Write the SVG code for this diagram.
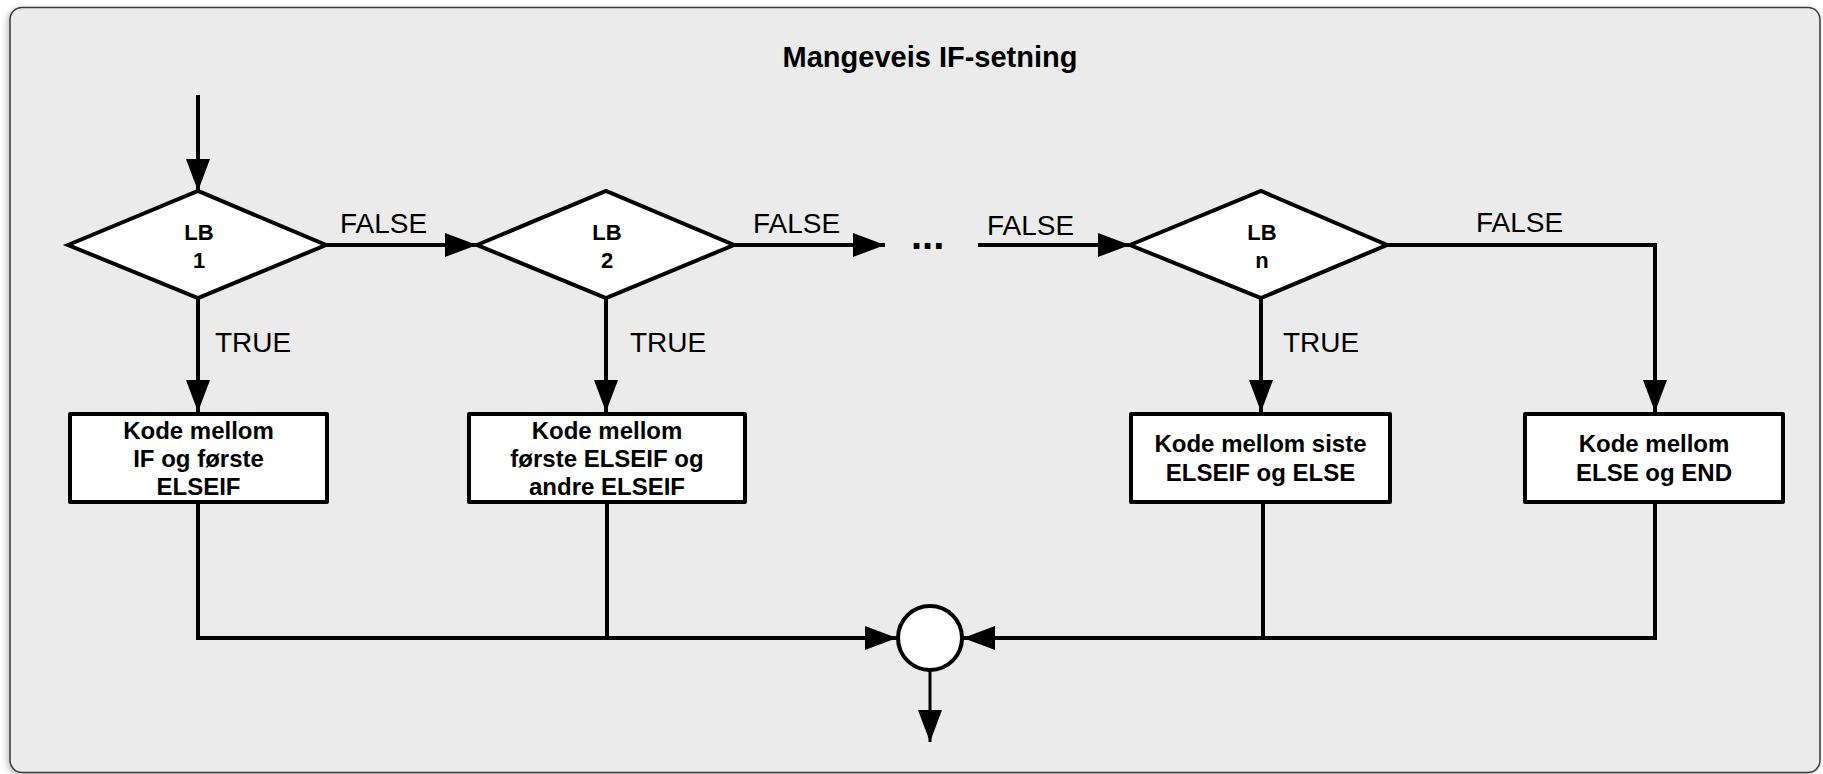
<svg xmlns="http://www.w3.org/2000/svg" width="1823" height="774" viewBox="0 0 1823 774">
<style>
.frame{fill:#ebebeb;stroke:#3a3a3a;stroke-width:1.5}
.shape{fill:#ffffff;stroke:#000000;stroke-width:4;stroke-linejoin:miter}
.box{fill:#ffffff;stroke:#000000;stroke-width:4;stroke-linejoin:round}
.line{fill:none;stroke:#000000;stroke-width:4;stroke-linejoin:miter;stroke-linecap:square}
.thin{fill:none;stroke:#000000;stroke-width:3}
.title{font-family:"Liberation Sans",Arial,sans-serif;font-weight:bold;font-size:29px;fill:#000;text-anchor:middle}
.lb{font-family:"Liberation Sans",Arial,sans-serif;font-weight:bold;font-size:22px;fill:#000;text-anchor:middle}
.bt{font-family:"Liberation Sans",Arial,sans-serif;font-weight:bold;font-size:24px;fill:#000;text-anchor:middle}
.lbl{font-family:"Liberation Sans",Arial,sans-serif;font-size:28px;fill:#000}
.dots{font-family:"Liberation Sans",Arial,sans-serif;font-weight:bold;font-size:40px;fill:#000}
</style>
<defs>
<marker id="arr" markerUnits="userSpaceOnUse" markerWidth="32" markerHeight="24" refX="32" refY="12" orient="auto" viewBox="0 0 32 24">
<path d="M0,0 L32,12 L0,24 z" fill="#000"/>
</marker>
<filter id="sh" x="-5%" y="-5%" width="110%" height="110%">
<feGaussianBlur stdDeviation="3"/>
</filter>
</defs>
<rect x="0" y="0" width="1823" height="774" fill="#ffffff"/>
<rect x="7" y="9" width="1812" height="765" rx="12" fill="#9a9a9a" filter="url(#sh)" opacity="0.6"/>
<rect class="frame" x="10" y="7.5" width="1810" height="765" rx="12"/>
<text class="title" x="930" y="67">Mangeveis IF-setning</text>

<g id="connectors">
<line class="thin" x1="198" y1="95" x2="198" y2="191" style="stroke-width:4" marker-end="url(#arr)"/>
<line class="line" x1="326" y1="245" x2="477" y2="245" style="stroke-linecap:butt" marker-end="url(#arr)"/>
<line class="line" x1="734" y1="245" x2="885" y2="245" style="stroke-linecap:butt" marker-end="url(#arr)"/>
<line class="line" x1="978" y1="245" x2="1130" y2="245" style="stroke-linecap:butt" marker-end="url(#arr)"/>
<polyline class="line" points="1387,245 1655,245 1655,412" style="stroke-linecap:butt" marker-end="url(#arr)"/>
<line class="line" x1="198" y1="298" x2="198" y2="412" style="stroke-linecap:butt" marker-end="url(#arr)"/>
<line class="line" x1="606" y1="298" x2="606" y2="412" style="stroke-linecap:butt" marker-end="url(#arr)"/>
<line class="line" x1="1261" y1="298" x2="1261" y2="412" style="stroke-linecap:butt" marker-end="url(#arr)"/>
<polyline class="line" points="198,502 198,638 897,638" style="stroke-linecap:butt" marker-end="url(#arr)"/>
<line class="line" x1="607" y1="502" x2="607" y2="638"/>
<polyline class="line" points="1655,502 1655,638 963,638" style="stroke-linecap:butt" marker-end="url(#arr)"/>
<line class="line" x1="1263" y1="502" x2="1263" y2="638"/>
<line class="thin" x1="930" y1="670" x2="930" y2="742" marker-end="url(#arr)"/>
<text class="lbl" x="340" y="233">FALSE</text>
<text class="lbl" x="753" y="233">FALSE</text>
<text class="lbl" x="987" y="235">FALSE</text>
<text class="lbl" x="1476" y="232">FALSE</text>
<text class="lbl" x="215" y="352">TRUE</text>
<text class="lbl" x="630" y="352">TRUE</text>
<text class="lbl" x="1283" y="352">TRUE</text>
<text class="dots" x="911" y="249">...</text>
</g>

<g id="lb1">
<polygon class="shape" points="68,245 198,191 326,245 198,298"/>
<text class="lb" x="199" y="240">LB</text>
<text class="lb" x="199" y="268">1</text>
</g>
<g id="lb2">
<polygon class="shape" points="477,245 606,191 734,245 606,298"/>
<text class="lb" x="607" y="240">LB</text>
<text class="lb" x="607" y="268">2</text>
</g>
<g id="lbn">
<polygon class="shape" points="1130,245 1261,191 1387,245 1261,298"/>
<text class="lb" x="1262" y="240">LB</text>
<text class="lb" x="1262" y="268">n</text>
</g>

<g id="box1">
<rect class="box" x="70" y="414" width="257" height="88"/>
<text class="bt" x="198.5" y="439">Kode mellom</text>
<text class="bt" x="198.5" y="467">IF og første</text>
<text class="bt" x="198.5" y="495">ELSEIF</text>
</g>
<g id="box2">
<rect class="box" x="469" y="414" width="276" height="88"/>
<text class="bt" x="607" y="439">Kode mellom</text>
<text class="bt" x="607" y="467">første ELSEIF og</text>
<text class="bt" x="607" y="495">andre ELSEIF</text>
</g>
<g id="box3">
<rect class="box" x="1131" y="414" width="259" height="88"/>
<text class="bt" x="1260.5" y="452">Kode mellom siste</text>
<text class="bt" x="1260.5" y="481">ELSEIF og ELSE</text>
</g>
<g id="box4">
<rect class="box" x="1525" y="414" width="258" height="88"/>
<text class="bt" x="1654" y="452">Kode mellom</text>
<text class="bt" x="1654" y="481">ELSE og END</text>
</g>
<g id="join">
<circle class="shape" cx="930" cy="638" r="32"/>
</g>
</svg>
